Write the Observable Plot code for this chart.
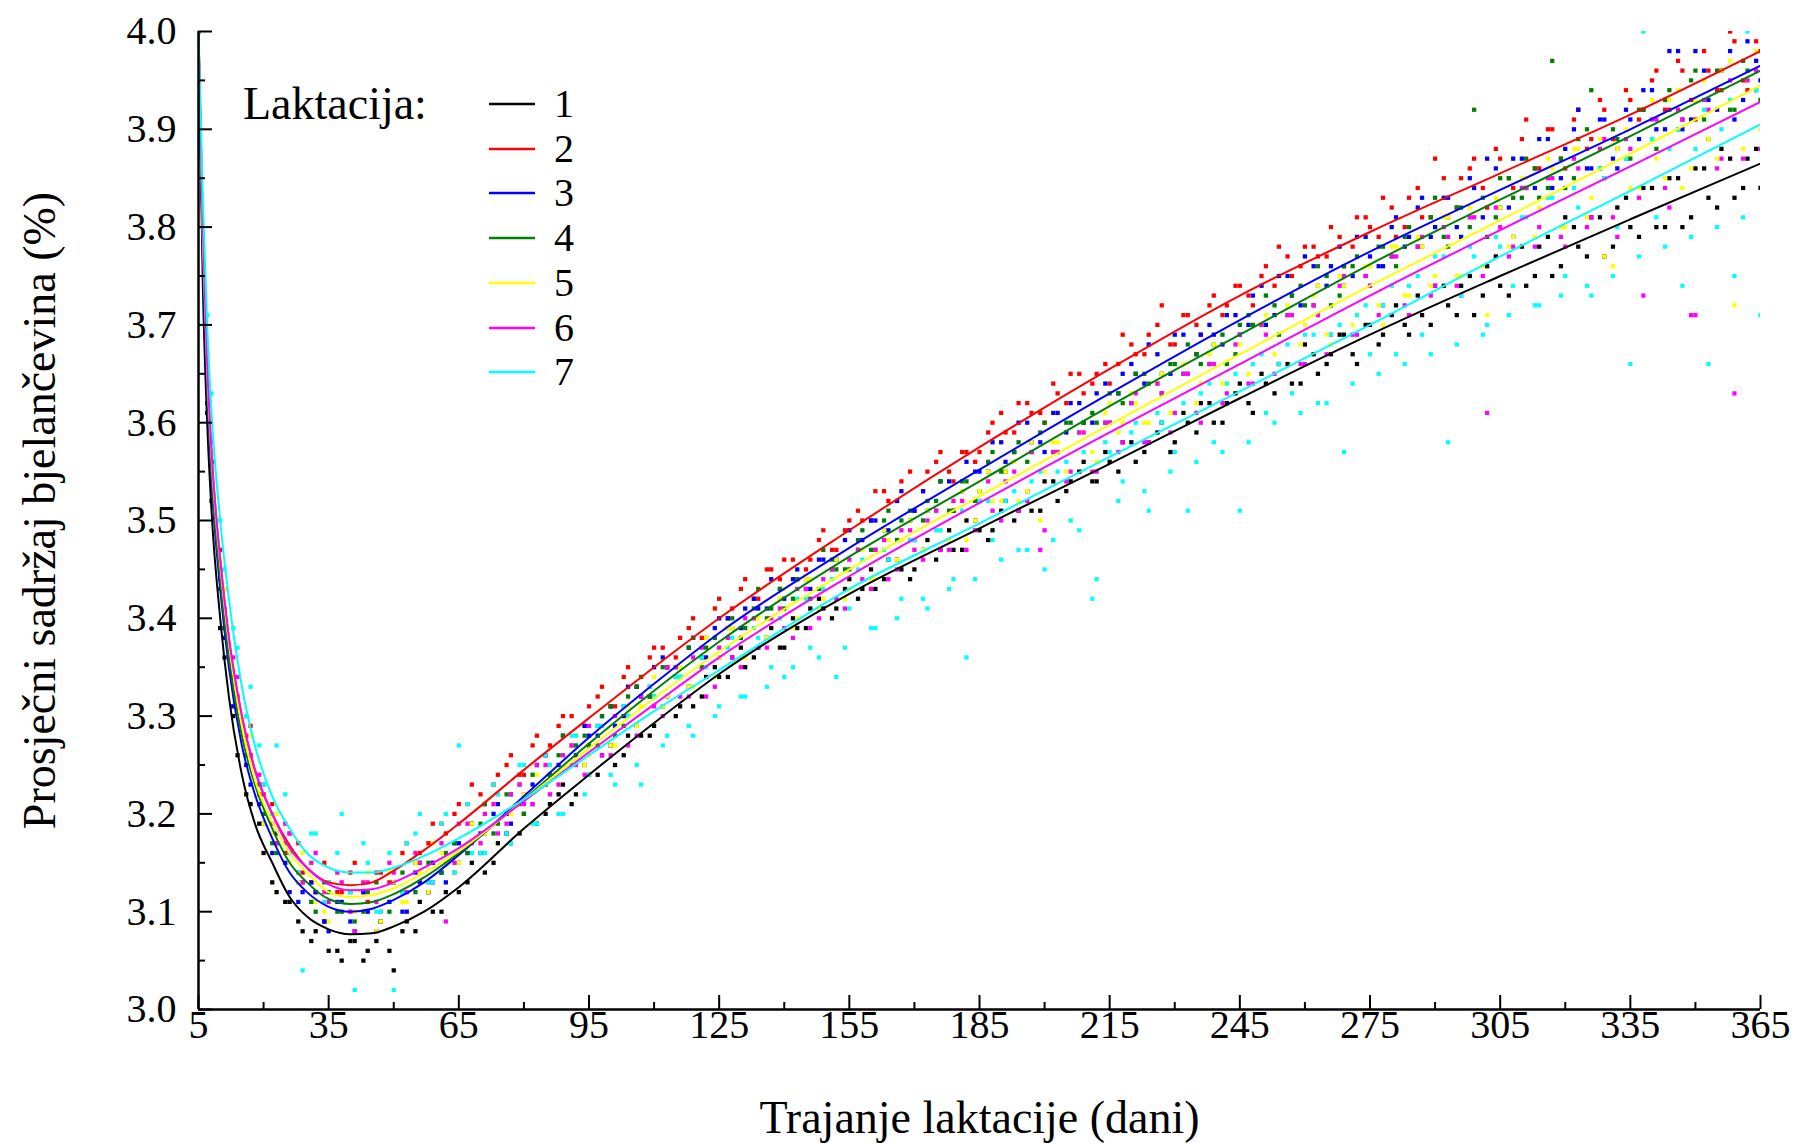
<!DOCTYPE html>
<html>
<head>
<meta charset="utf-8">
<script src="https://cdn.jsdelivr.net/npm/d3@7"></script>
<script src="https://cdn.jsdelivr.net/npm/@observablehq/plot@0.6"></script>
<style>
html, body { margin: 0; padding: 0; background: #fff; }
#wrap { position: relative; width: 1803px; height: 1144px; font-family: "Liberation Serif", "Times New Roman", serif; }
#legend { position: absolute; left: 0; top: 0; width: 0; height: 0; color: #000; }
#legend .t { position: absolute; white-space: nowrap; line-height: 40px; }
#legend svg { position: absolute; }
</style>
</head>
<body>
<div id="wrap"><div id="chart"></div><div id="legend"></div></div>
<script>
// ---- categories, texts & tick labels ----
const lactations = ["1", "2", "3", "4", "5", "6", "7"];
const lactColors = ["#000000", "#ff0000", "#0000ff", "#008000", "#ffff00", "#ff00ff", "#00ffff"];
const legendTitle = "Laktacija:";
const xTitle = "Trajanje laktacije (dani)";
const yTitle = "Prosječni sadržaj bjelančevina (%)";
const xMajorTicks = [5, 35, 65, 95, 125, 155, 185, 215, 245, 275, 305, 335, 365];
const xMinorTicks = [20, 50, 80, 110, 140, 170, 200, 230, 260, 290, 320, 350];
const yMajorTicks = [3.0, 3.1, 3.2, 3.3, 3.4, 3.5, 3.6, 3.7, 3.8, 3.9, 4.0];
const yMinorTicks = [3.05, 3.15, 3.25, 3.35, 3.45, 3.55, 3.65, 3.75, 3.85, 3.95];

// ---- fitted curves ----
const curveDays = [5, 6, 7, 8, 10, 12, 15, 18, 22, 26, 30, 35, 40, 45, 50, 57, 65, 80, 95, 110, 125, 155, 185, 215, 245, 275, 305, 335, 365];
const curve1 = [4.00, 3.74, 3.60, 3.51, 3.40, 3.32, 3.24, 3.19, 3.15, 3.115, 3.095, 3.082, 3.077, 3.078, 3.085, 3.10, 3.125, 3.185, 3.24, 3.293, 3.343, 3.425, 3.492, 3.558, 3.625, 3.69, 3.75, 3.808, 3.865];
const curve2 = [4.00, 3.80, 3.66, 3.57, 3.46, 3.38, 3.30, 3.245, 3.20, 3.168, 3.145, 3.13, 3.127, 3.13, 3.142, 3.163, 3.19, 3.245, 3.298, 3.35, 3.40, 3.49, 3.575, 3.655, 3.73, 3.795, 3.855, 3.915, 3.98];
const curve3 = [4.00, 3.77, 3.63, 3.54, 3.43, 3.35, 3.27, 3.22, 3.175, 3.14, 3.12, 3.105, 3.10, 3.103, 3.112, 3.13, 3.158, 3.218, 3.278, 3.333, 3.385, 3.472, 3.552, 3.63, 3.705, 3.775, 3.838, 3.90, 3.965];
const curve4 = [4.00, 3.78, 3.64, 3.55, 3.44, 3.36, 3.28, 3.23, 3.185, 3.15, 3.13, 3.113, 3.108, 3.11, 3.118, 3.135, 3.16, 3.215, 3.272, 3.326, 3.376, 3.463, 3.54, 3.617, 3.69, 3.762, 3.828, 3.893, 3.96];
const curve5 = [4.00, 3.79, 3.655, 3.565, 3.455, 3.375, 3.29, 3.235, 3.192, 3.16, 3.14, 3.12, 3.115, 3.117, 3.124, 3.14, 3.162, 3.214, 3.267, 3.318, 3.366, 3.45, 3.525, 3.598, 3.67, 3.74, 3.807, 3.875, 3.945];
const curve6 = [4.00, 3.80, 3.66, 3.57, 3.46, 3.38, 3.30, 3.245, 3.20, 3.165, 3.145, 3.128, 3.122, 3.123, 3.13, 3.145, 3.165, 3.213, 3.263, 3.312, 3.36, 3.443, 3.518, 3.59, 3.66, 3.73, 3.797, 3.862, 3.928];
const curve7 = [4.00, 3.83, 3.70, 3.61, 3.50, 3.42, 3.33, 3.27, 3.218, 3.185, 3.16, 3.145, 3.14, 3.14, 3.145, 3.157, 3.175, 3.215, 3.26, 3.305, 3.347, 3.43, 3.497, 3.565, 3.632, 3.70, 3.77, 3.837, 3.905];

// ---- daily means ----
// set A: days 5, 8, 11, ... 365
const dotDaysA = d3.range(5, 366, 3);
const dots1a = [
  4.00,3.52,3.36,3.26,3.21,3.16,3.12,3.11,3.08,3.08,
  3.06,3.05,3.07,3.06,3.09,3.04,3.09,3.11,3.10,3.12,
  3.12,3.15,3.14,3.17,3.17,3.20,3.19,3.21,3.23,3.22,
  3.24,3.26,3.25,3.28,3.28,3.29,3.32,3.31,3.31,3.34,
  3.34,3.36,3.35,3.37,3.39,3.37,3.39,3.41,3.41,3.41,
  3.44,3.43,3.43,3.46,3.45,3.45,3.48,3.47,3.47,3.50,
  3.49,3.49,3.52,3.51,3.51,3.54,3.52,3.54,3.56,3.54,
  3.56,3.58,3.56,3.58,3.60,3.58,3.60,3.62,3.60,3.62,
  3.64,3.61,3.64,3.66,3.64,3.68,3.65,3.67,3.69,3.66,
  3.70,3.69,3.72,3.69,3.71,3.74,3.72,3.74,3.71,3.76,
  3.74,3.79,3.74,3.78,3.75,3.81,3.78,3.81,3.77,3.82,
  3.80,3.84,3.80,3.85,3.80,3.86,3.83,3.88,3.83,3.87,
  3.84];
const dots2a = [
  4.00,3.56,3.43,3.32,3.29,3.22,3.17,3.18,3.14,3.12,
  3.13,3.12,3.15,3.11,3.14,3.13,3.17,3.16,3.19,3.18,
  3.21,3.23,3.21,3.24,3.26,3.24,3.28,3.27,3.30,3.28,
  3.31,3.33,3.31,3.35,3.34,3.37,3.35,3.38,3.40,3.38,
  3.42,3.41,3.44,3.42,3.45,3.46,3.44,3.46,3.49,3.47,
  3.50,3.50,3.53,3.52,3.54,3.51,3.55,3.57,3.54,3.57,
  3.57,3.60,3.59,3.62,3.61,3.60,3.63,3.65,3.63,3.65,
  3.64,3.69,3.67,3.69,3.72,3.68,3.71,3.69,3.73,3.72,
  3.74,3.72,3.76,3.78,3.75,3.78,3.77,3.80,3.76,3.81,
  3.80,3.83,3.79,3.83,3.81,3.87,3.81,3.85,3.87,3.82,
  3.87,3.84,3.91,3.86,3.90,3.86,3.92,3.89,3.92,3.88,
  3.93,3.92,3.96,3.92,3.96,3.91,3.96,3.94,3.99,3.94,
  3.98];
const dots3a = [
  4.00,3.54,3.38,3.31,3.23,3.19,3.18,3.12,3.12,3.12,
  3.08,3.11,3.08,3.10,3.09,3.13,3.10,3.13,3.15,3.13,
  3.17,3.19,3.18,3.21,3.19,3.22,3.25,3.24,3.28,3.26,
  3.28,3.30,3.29,3.33,3.32,3.35,3.35,3.34,3.38,3.36,
  3.40,3.39,3.41,3.41,3.44,3.42,3.45,3.43,3.46,3.46,
  3.49,3.48,3.50,3.49,3.53,3.51,3.51,3.54,3.51,3.56,
  3.55,3.58,3.56,3.60,3.58,3.57,3.61,3.62,3.60,3.63,
  3.60,3.65,3.65,3.68,3.65,3.69,3.65,3.69,3.69,3.71,
  3.69,3.73,3.70,3.75,3.73,3.77,3.74,3.76,3.74,3.79,
  3.77,3.76,3.81,3.79,3.83,3.80,3.83,3.79,3.84,3.87,
  3.82,3.87,3.84,3.89,3.84,3.88,3.92,3.86,3.91,3.86,
  3.91,3.94,3.90,3.98,3.90,3.98,3.93,3.96,3.91,3.99,
  3.95];
const dots4a = [
  4.00,3.56,3.39,3.31,3.26,3.20,3.16,3.16,3.13,3.10,
  3.12,3.10,3.09,3.12,3.09,3.13,3.12,3.15,3.13,3.16,
  3.15,3.19,3.21,3.19,3.22,3.20,3.25,3.24,3.28,3.27,
  3.27,3.30,3.28,3.32,3.34,3.32,3.35,3.34,3.38,3.37,
  3.36,3.40,3.39,3.43,3.41,3.41,3.44,3.42,3.47,3.45,
  3.45,3.49,3.47,3.51,3.50,3.48,3.52,3.54,3.51,3.54,
  3.53,3.57,3.55,3.58,3.57,3.60,3.57,3.60,3.60,3.60,
  3.63,3.62,3.65,3.64,3.63,3.66,3.68,3.66,3.68,3.66,
  3.70,3.70,3.73,3.69,3.73,3.72,3.76,3.72,3.76,3.77,
  3.74,3.78,3.76,3.80,3.78,3.83,3.78,3.82,3.92,3.79,
  3.85,3.83,3.87,3.83,3.97,3.84,3.89,3.94,3.85,3.89,
  3.87,3.92,3.88,3.94,3.91,3.96,3.89,3.96,3.92,3.96,
  3.93];
const dots5a = [
  4.00,3.57,3.43,3.31,3.28,3.19,3.20,3.15,3.16,3.11,
  3.09,3.13,3.10,3.14,3.09,3.13,3.11,3.14,3.17,3.15,
  3.15,3.19,3.18,3.22,3.20,3.22,3.24,3.22,3.26,3.28,
  3.26,3.29,3.27,3.31,3.31,3.34,3.32,3.35,3.33,3.38,
  3.36,3.39,3.36,3.40,3.40,3.43,3.40,3.44,3.42,3.46,
  3.43,3.47,3.44,3.48,3.48,3.47,3.51,3.49,3.52,3.48,
  3.53,3.52,3.55,3.52,3.58,3.55,3.58,3.50,3.59,3.56,
  3.62,3.60,3.62,3.60,3.65,3.61,3.65,3.64,3.68,3.64,
  3.68,3.66,3.71,3.66,3.71,3.70,3.74,3.68,3.74,3.71,
  3.76,3.70,3.78,3.73,3.78,3.75,3.81,3.75,3.81,3.71,
  3.82,3.79,3.85,3.82,3.86,3.80,3.88,3.83,3.77,3.88,
  3.84,4.00,3.87,3.93,3.84,3.93,3.89,3.96,3.72,3.95,
  3.90];
const dots6a = [
  4.00,3.58,3.41,3.34,3.26,3.23,3.17,3.18,3.13,3.16,
  3.11,3.13,3.08,3.13,3.10,3.14,3.12,3.15,3.13,3.09,
  3.19,3.17,3.20,3.18,3.22,3.21,3.25,3.22,3.26,3.25,
  3.29,3.26,3.30,3.27,3.32,3.31,3.35,3.32,3.36,3.32,
  3.37,3.36,3.40,3.37,3.40,3.39,3.43,3.39,3.44,3.42,
  3.46,3.44,3.47,3.44,3.49,3.47,3.50,3.47,3.52,3.47,
  3.52,3.51,3.54,3.51,3.57,3.49,3.57,3.55,3.59,3.55,
  3.60,3.58,3.63,3.58,3.63,3.61,3.65,3.60,3.66,3.63,
  3.69,3.64,3.69,3.66,3.71,3.66,3.71,3.69,3.75,3.69,
  3.74,3.72,3.77,3.71,3.79,3.74,3.79,3.73,3.81,3.61,
  3.80,3.78,3.84,3.80,3.85,3.78,3.86,3.81,3.89,3.79,
  3.88,3.73,3.91,3.82,3.91,3.71,3.92,3.87,3.63,3.95,
  3.88];
const dots7a = [
  4.00,3.63,3.45,3.37,3.33,3.23,3.27,3.16,3.04,3.18,
  3.13,3.20,3.02,3.15,3.10,3.02,3.17,3.20,3.13,3.20,
  3.27,3.16,3.16,3.22,3.17,3.25,3.19,3.25,3.20,3.28,
  3.24,3.29,3.23,3.30,3.23,3.32,3.28,3.34,3.28,3.35,
  3.31,3.38,3.32,3.38,3.35,3.34,3.42,3.37,3.43,3.34,
  3.41,3.46,3.39,3.46,3.42,3.48,3.41,3.49,3.44,3.36,
  3.52,3.48,3.52,3.47,3.54,3.45,3.55,3.50,3.57,3.44,
  3.57,3.54,3.60,3.51,3.60,3.57,3.51,3.63,3.58,3.64,
  3.51,3.66,3.61,3.66,3.63,3.69,3.62,3.69,3.57,3.71,
  3.67,3.72,3.67,3.74,3.69,3.77,3.58,3.73,3.77,3.70,
  3.78,3.74,3.81,3.72,3.83,3.75,3.82,3.73,3.85,3.80,
  3.66,4.00,3.81,3.88,3.74,3.88,3.66,3.90,3.75,4.00,
  3.71];
// set B: days 7, 10, 13, ... 364
const dotDaysB = d3.range(7, 365, 3);
const dots1b = [
  3.61,3.39,3.30,3.22,3.19,3.13,3.11,3.09,3.07,3.09,
  3.06,3.07,3.05,3.07,3.06,3.08,3.08,3.12,3.10,3.14,
  3.13,3.16,3.15,3.18,3.18,3.21,3.20,3.22,3.21,3.25,
  3.24,3.27,3.26,3.29,3.28,3.31,3.30,3.33,3.32,3.35,
  3.34,3.37,3.36,3.38,3.37,3.40,3.39,3.42,3.40,3.43,
  3.42,3.45,3.44,3.46,3.44,3.47,3.46,3.49,3.47,3.50,
  3.48,3.51,3.50,3.53,3.51,3.54,3.53,3.55,3.54,3.57,
  3.55,3.58,3.57,3.59,3.57,3.61,3.59,3.62,3.60,3.63,
  3.62,3.65,3.63,3.66,3.64,3.67,3.66,3.69,3.67,3.70,
  3.68,3.71,3.70,3.73,3.70,3.74,3.71,3.75,3.73,3.77,
  3.73,3.78,3.75,3.79,3.76,3.80,3.77,3.81,3.78,3.83,
  3.79,3.84,3.80,3.85,3.81,3.86,3.82,3.87,3.84,3.88];
const dots2b = [
  3.65,3.47,3.34,3.30,3.22,3.21,3.16,3.17,3.13,3.15,
  3.12,3.14,3.12,3.14,3.13,3.16,3.15,3.17,3.19,3.20,
  3.21,3.22,3.23,3.25,3.24,3.27,3.26,3.29,3.30,3.29,
  3.32,3.31,3.34,3.33,3.36,3.37,3.36,3.39,3.38,3.41,
  3.40,3.43,3.42,3.45,3.44,3.46,3.45,3.48,3.47,3.49,
  3.51,3.50,3.53,3.52,3.55,3.53,3.56,3.55,3.57,3.56,
  3.59,3.61,3.59,3.62,3.61,3.64,3.62,3.65,3.64,3.66,
  3.66,3.68,3.67,3.70,3.68,3.71,3.70,3.72,3.71,3.74,
  3.73,3.75,3.74,3.77,3.76,3.78,3.77,3.79,3.78,3.81,
  3.79,3.82,3.80,3.84,3.81,3.85,3.82,3.86,3.84,3.88,
  3.85,3.89,3.86,3.90,3.87,3.91,3.88,3.93,3.89,3.94,
  3.91,3.95,3.92,3.97,3.93,3.98,3.94,4.00,3.95,3.99];
const dots3b = [
  3.62,3.44,3.31,3.25,3.21,3.16,3.15,3.11,3.13,3.09,
  3.11,3.09,3.12,3.08,3.11,3.10,3.14,3.12,3.14,3.17,
  3.16,3.18,3.20,3.20,3.23,3.23,3.26,3.25,3.27,3.29,
  3.28,3.31,3.30,3.33,3.32,3.36,3.35,3.37,3.36,3.39,
  3.40,3.39,3.42,3.41,3.43,3.44,3.43,3.46,3.45,3.48,
  3.47,3.50,3.49,3.52,3.50,3.53,3.51,3.54,3.53,3.55,
  3.55,3.58,3.57,3.60,3.58,3.61,3.59,3.62,3.60,3.64,
  3.63,3.66,3.64,3.67,3.65,3.69,3.67,3.70,3.68,3.71,
  3.70,3.74,3.71,3.75,3.72,3.76,3.74,3.78,3.75,3.79,
  3.76,3.80,3.78,3.82,3.79,3.83,3.80,3.85,3.81,3.86,
  3.82,3.87,3.84,3.89,3.85,3.90,3.86,3.91,3.87,3.92,
  3.89,3.94,3.90,3.98,3.91,3.96,3.92,3.98,3.93,3.97];
const dots4b = [
  3.65,3.43,3.34,3.26,3.23,3.17,3.17,3.13,3.11,3.13,
  3.10,3.12,3.10,3.13,3.10,3.14,3.12,3.15,3.14,3.17,
  3.16,3.19,3.18,3.22,3.21,3.24,3.23,3.26,3.25,3.28,
  3.27,3.31,3.29,3.33,3.32,3.35,3.34,3.37,3.35,3.38,
  3.39,3.38,3.41,3.40,3.43,3.42,3.44,3.43,3.46,3.45,
  3.48,3.47,3.50,3.48,3.51,3.50,3.52,3.51,3.54,3.52,
  3.56,3.55,3.57,3.56,3.59,3.57,3.60,3.59,3.61,3.60,
  3.63,3.62,3.65,3.64,3.66,3.65,3.67,3.66,3.69,3.67,
  3.71,3.70,3.72,3.71,3.74,3.72,3.75,3.73,3.76,3.75,
  3.78,3.77,3.79,3.78,3.81,3.79,3.82,3.80,3.83,3.81,
  3.85,3.83,3.86,3.84,3.87,3.85,3.90,3.86,3.90,3.87,
  3.92,3.89,3.93,3.90,3.95,3.91,3.96,3.92,3.97,3.94];
const dots5b = [
  3.66,3.46,3.35,3.27,3.24,3.18,3.19,3.13,3.15,3.10,
  3.14,3.10,3.13,3.08,3.14,3.11,3.15,3.12,3.16,3.14,
  3.19,3.17,3.21,3.19,3.23,3.21,3.25,3.23,3.27,3.25,
  3.29,3.27,3.31,3.29,3.33,3.31,3.35,3.33,3.37,3.34,
  3.39,3.36,3.40,3.38,3.42,3.39,3.44,3.41,3.45,3.42,
  3.47,3.44,3.49,3.46,3.50,3.47,3.51,3.48,3.53,3.50,
  3.55,3.52,3.56,3.53,3.50,3.58,3.55,3.59,3.57,3.61,
  3.59,3.63,3.60,3.64,3.61,3.66,3.62,3.67,3.64,3.68,
  3.65,3.70,3.67,3.72,3.68,3.73,3.69,3.75,3.70,3.76,
  3.72,3.78,3.73,3.79,3.74,3.81,3.75,3.82,3.76,3.83,
  3.78,3.85,3.79,3.87,3.80,3.88,3.81,3.89,3.76,3.90,
  3.84,3.93,3.85,3.94,3.86,3.95,3.87,3.97,3.88,3.98];
const dots6b = [
  3.67,3.45,3.36,3.28,3.24,3.19,3.19,3.14,3.15,3.12,
  3.14,3.10,3.13,3.11,3.15,3.12,3.16,3.13,3.17,3.15,
  3.19,3.17,3.21,3.19,3.23,3.21,3.25,3.23,3.27,3.24,
  3.29,3.26,3.31,3.28,3.33,3.30,3.35,3.32,3.37,3.33,
  3.38,3.35,3.40,3.37,3.41,3.38,3.43,3.40,3.45,3.41,
  3.47,3.43,3.48,3.45,3.49,3.46,3.51,3.47,3.52,3.49,
  3.54,3.50,3.55,3.52,3.47,3.57,3.54,3.59,3.55,3.60,
  3.57,3.62,3.58,3.64,3.59,3.65,3.61,3.66,3.62,3.68,
  3.64,3.70,3.65,3.71,3.66,3.72,3.67,3.74,3.69,3.75,
  3.71,3.77,3.72,3.78,3.73,3.80,3.74,3.81,3.75,3.82,
  3.77,3.84,3.78,3.85,3.79,3.87,3.80,3.88,3.81,3.89,
  3.83,3.91,3.84,3.92,3.71,3.93,3.86,3.95,3.87,3.96];
const dots7b = [
  3.71,3.50,3.39,3.30,3.27,3.20,3.22,3.14,3.18,3.11,
  3.16,3.12,3.17,3.10,3.16,3.12,3.18,3.13,3.19,3.14,
  3.21,3.16,3.23,3.18,3.25,3.19,3.26,3.20,3.28,3.22,
  3.29,3.24,3.31,3.25,3.33,3.27,3.34,3.29,3.36,3.30,
  3.37,3.32,3.39,3.33,3.40,3.35,3.42,3.36,3.44,3.37,
  3.45,3.39,3.47,3.40,3.48,3.42,3.49,3.43,3.51,3.44,
  3.52,3.46,3.53,3.47,3.55,3.48,3.56,3.49,3.42,3.58,
  3.52,3.59,3.53,3.61,3.55,3.62,3.56,3.64,3.57,3.65,
  3.58,3.67,3.60,3.68,3.61,3.69,3.62,3.70,3.64,3.72,
  3.65,3.74,3.66,3.75,3.67,3.77,3.68,3.78,3.69,3.79,
  3.71,3.81,3.72,3.83,3.73,3.84,3.74,3.86,3.75,3.87,
  3.77,3.89,3.78,3.90,3.79,3.92,3.80,3.93,3.81,3.94];

// ---- build tables ----
const curves = [curve1, curve2, curve3, curve4, curve5, curve6, curve7];
const dotsA = [dots1a, dots2a, dots3a, dots4a, dots5a, dots6a, dots7a];
const dotsB = [dots1b, dots2b, dots3b, dots4b, dots5b, dots6b, dots7b];
const curveRows = [];
curves.forEach((c, i) => c.forEach((v, j) => curveRows.push({lact: lactations[i], day: curveDays[j], value: v})));
const dotRows = [];
dotsA.forEach((s, i) => s.forEach((v, j) => dotRows.push({lact: lactations[i], day: dotDaysA[j], value: v})));
dotsB.forEach((s, i) => s.forEach((v, j) => dotRows.push({lact: lactations[i], day: dotDaysB[j], value: v})));

const chart = Plot.plot({
  width: 1803,
  height: 1144,
  marginLeft: 198,
  marginRight: 43,
  marginTop: 31,
  marginBottom: 135,
  x: {domain: [5, 365]},
  y: {domain: [3, 4]},
  color: {domain: lactations, range: lactColors},
  style: {fontFamily: "'Liberation Serif', 'Times New Roman', serif", fontSize: "40px", background: "#fff", color: "#000", overflow: "visible"},
  marks: [
    Plot.dot(dotRows, {x: "day", y: "value", fill: "lact", symbol: "square", r: 2.4, clip: true}),
    Plot.line(curveRows, {x: "day", y: "value", z: "lact", stroke: "lact", strokeWidth: 2, curve: "monotone-x", clip: true}),
    Plot.ruleX([5], {strokeWidth: 2.5}),
    Plot.ruleY([3], {strokeWidth: 2.5}),
    Plot.axisY(yMajorTicks, {tickSize: 14, dx: 14, fill: "none", strokeWidth: 2, label: null}),
    Plot.axisY(yMinorTicks, {tickSize: 7, dx: 7, fill: "none", strokeWidth: 2, label: null}),
    Plot.axisY(yMajorTicks, {tickSize: 0, tickPadding: 22, tickFormat: d3.format(".1f"), label: null}),
    Plot.axisX(xMajorTicks, {tickSize: 14, dy: -14, fill: "none", strokeWidth: 2, label: null}),
    Plot.axisX(xMinorTicks, {tickSize: 7, dy: -7, fill: "none", strokeWidth: 2, label: null}),
    Plot.axisX(xMajorTicks, {tickSize: 0, tickPadding: 0, tickFormat: d => String(d), label: null}),
    Plot.text([yTitle], {frameAnchor: "left", dx: -158, dy: -10, rotate: -90, textAnchor: "middle", lineAnchor: "middle", fontSize: 46}),
    Plot.text([xTitle], {frameAnchor: "bottom", dy: 109, textAnchor: "middle", lineAnchor: "middle", fontSize: 46})
  ]
});
document.getElementById("chart").appendChild(chart);

// ---- legend (HTML overlay) ----
const legend = document.getElementById("legend");
const title = document.createElement("div");
title.className = "t";
title.textContent = legendTitle;
title.style.fontSize = "46px";
title.style.left = "243px";
title.style.top = (104 - 20) + "px";
legend.appendChild(title);
lactations.forEach((l, i) => {
  const cy = 104 + i * 44.7;
  const sw = document.createElementNS("http://www.w3.org/2000/svg", "svg");
  sw.setAttribute("width", 46);
  sw.setAttribute("height", 10);
  sw.style.left = "489px";
  sw.style.top = (cy - 5) + "px";
  const ln = document.createElementNS("http://www.w3.org/2000/svg", "line");
  ln.setAttribute("x1", 0); ln.setAttribute("x2", 46);
  ln.setAttribute("y1", 5); ln.setAttribute("y2", 5);
  ln.setAttribute("stroke", lactColors[i]);
  ln.setAttribute("stroke-width", 2.5);
  sw.appendChild(ln);
  legend.appendChild(sw);
  const t = document.createElement("div");
  t.className = "t";
  t.textContent = l;
  t.style.fontSize = "40px";
  t.style.left = "554px";
  t.style.top = (cy - 20) + "px";
  legend.appendChild(t);
});
</script>
</body>
</html>
